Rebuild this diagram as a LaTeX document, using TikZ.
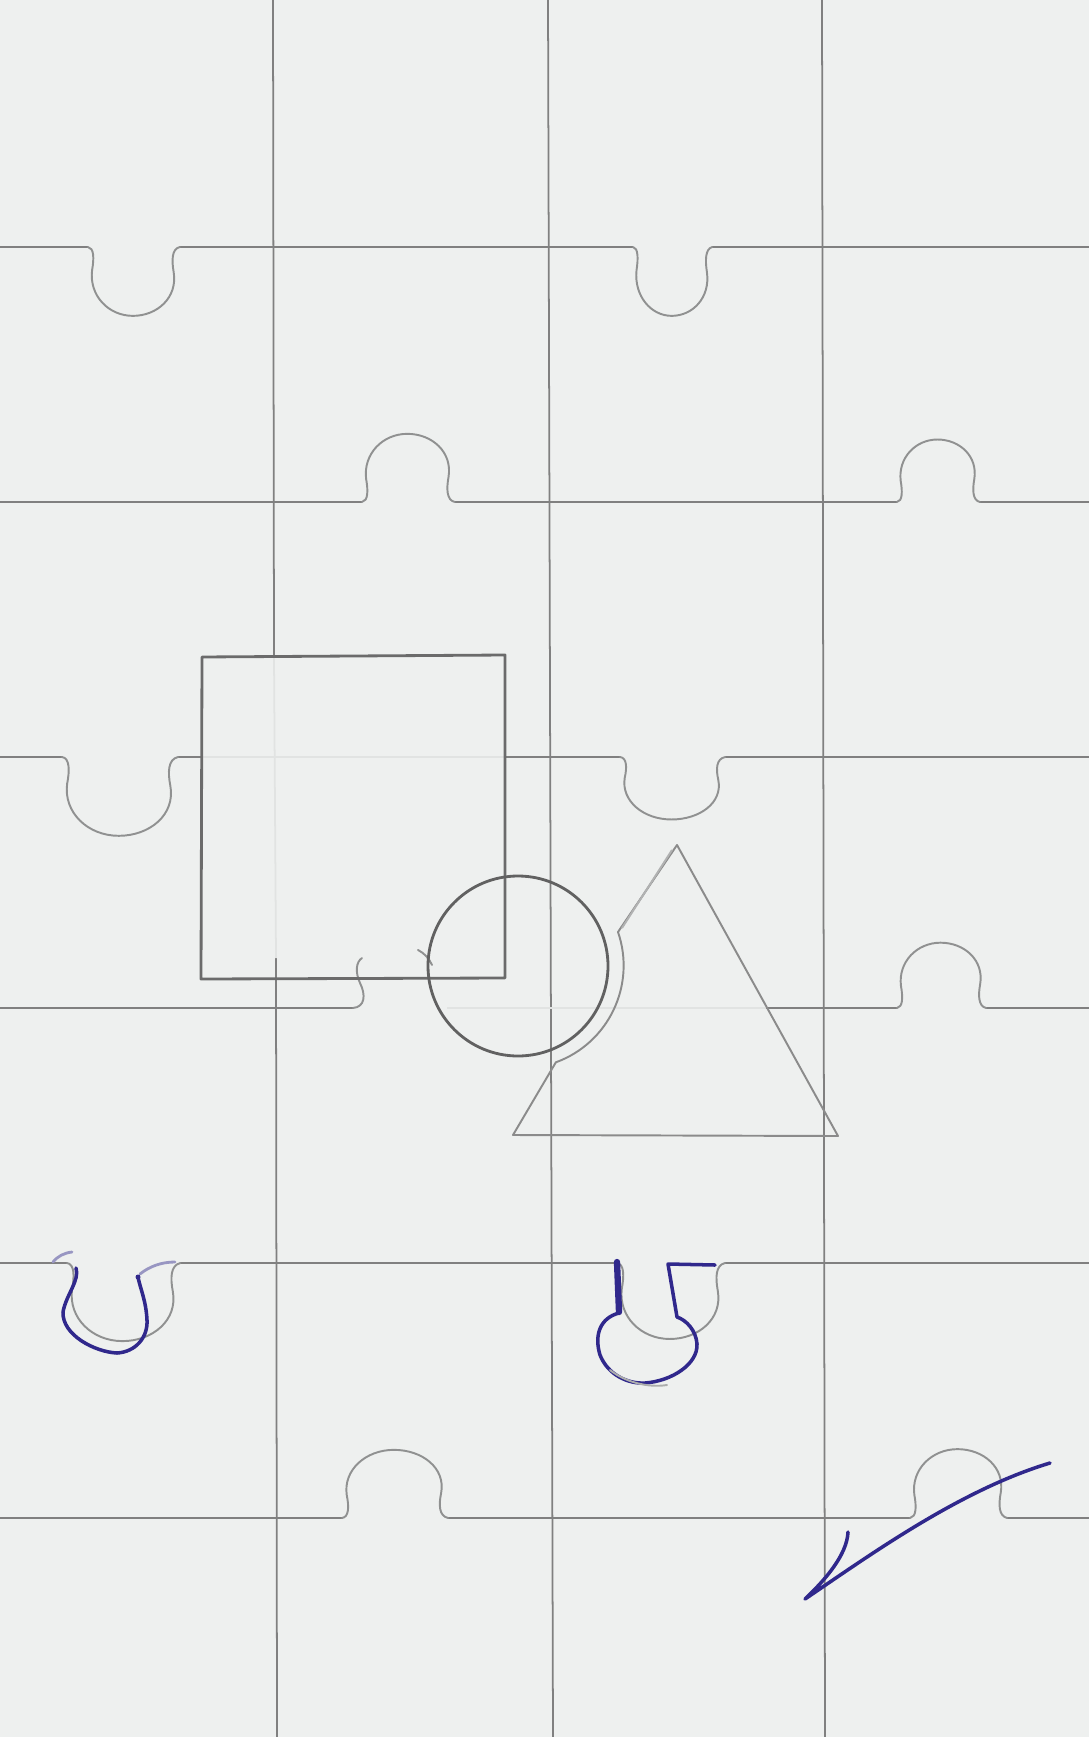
\documentclass[tikz,border=0pt]{standalone}
\definecolor{paper}{RGB}{238,240,239}
\definecolor{pencil}{RGB}{128,128,128}
\definecolor{ink}{RGB}{48,40,140}
\tikzset{
  knob/.pic={
    \draw[tabline] (0,0) .. controls (6,1) and (6,12) .. (4,24)
      .. controls (1,50) and (20,71) .. (44,71)
      .. controls (68,71) and (88,52) .. (84,26)
      .. controls (82,14) and (82,2) .. (90,0);
  }
}
\begin{document}
\begin{tikzpicture}[x=0.1mm, y=-0.1mm,
    gridline/.style={draw=pencil, line width=0.5pt},
    faint/.style={draw=pencil!12!paper, line width=0.5pt},
    tabline/.style={draw=pencil!85!paper, line width=0.55pt, line cap=round},
    shapeline/.style={draw=black!58, line width=0.8pt, line join=round},
    triline/.style={draw=pencil!90!paper, line width=0.55pt, line join=round},
    inkline/.style={draw=ink, line width=1pt, line cap=round, line join=round},
    inklight/.style={draw=ink!45!paper, line width=0.8pt, line cap=round}]
    % Paper and frame
    \useasboundingbox (0,0) rectangle (1089,1737);
    \fill[paper] (0,0) rectangle (1089,1737);

    % Vertical grid lines
    \draw[gridline] (273,0) -- (274,657) (276,958) -- (277,1737);
    \draw[faint] (274,657) -- (276,958);
    \foreach \xa/\xb in {548/553, 822/825} {
        \draw[gridline] (\xa,0) -- (\xb,1737);
    }

    % Horizontal grid lines, broken where the knobs sit
    \draw[gridline] (0,247) -- (88,247) (180,247) -- (633,247) (712,247) -- (1089,247);
    \draw[gridline] (0,502) -- (362,502) (455,502) -- (897,502) (980,502) -- (1089,502);
    \draw[gridline] (0,757) -- (62,757) (178,757) -- (202,757) (505,757) -- (620,757) (725,757) -- (1089,757);
    \draw[faint] (202,757) -- (505,757);
    \draw[gridline] (0,1008) -- (353,1008) (766,1008) -- (897,1008) (986,1008) -- (1089,1008);
    \draw[faint] (447,1008) -- (766,1008);
    \draw[gridline] (0,1263) -- (67,1263) (180,1263) -- (617,1263) (725,1263) -- (1089,1263);
    \draw[gridline] (0,1518) -- (342,1518) (448,1518) -- (910,1518) (1007,1518) -- (1089,1518);

    % Puzzle knobs
    \foreach \x/\y/\sx/\sy in {88/247/1.02/0.97, 633/247/0.88/0.97,
        362/502/1.03/-0.96, 897/502/0.92/-0.88,
        62/757/1.29/1.11, 620/757/1.17/0.88,
        897/1008/0.99/-0.92,
        67/1263/1.26/1.1, 617/1263/1.2/1.07,
        342/1518/1.18/-0.96, 910/1518/1.08/-0.97} {
        \pic[xscale=\sx, yscale=\sy] at (\x,\y) {knob};
    }

    % Knob half hidden under the square and the circle
    \draw[tabline] (353,1008) .. controls (365,1007) and (366,995) .. (360,983)
        .. controls (355,972) and (356,962) .. (362,958);
    \draw[tabline] (418,950) .. controls (424,953) and (429,958) .. (432,965);

    % Square
    \draw[shapeline] (202,657) -- (505,655) -- (505,978) -- (201,979) -- cycle;

    % Circle
    \draw[shapeline, draw=black!62] (518,966) circle[radius=90];

    % Triangle, bent round the circle
    \draw[triline] (677,845) -- (618,932) arc[start angle=-19, end angle=70, radius=103]
        -- (513,1135) -- (838,1136) -- cycle;
    \draw[triline, draw=pencil!55!paper] (672,850) -- (622,928);

    % Ink over the left knob of the fifth line
    \draw[inklight] (53,1262) .. controls (58,1256) and (64,1253) .. (72,1252);
    \draw[inkline] (76,1268) .. controls (80,1280) and (66,1295) .. (63,1312)
        .. controls (62,1335) and (95,1352) .. (117,1353)
        .. controls (135,1352) and (148,1338) .. (147,1320)
        .. controls (146,1300) and (140,1288) .. (138,1277);
    \fill[ink] (138,1277) circle[radius=2.5];
    \draw[inklight] (140,1274) .. controls (150,1266) and (162,1262) .. (175,1262);

    % Ink over the right knob of the fifth line
    \draw[inkline, line width=1.8pt] (617,1262) -- (619,1312);
    \draw[inkline] (619,1313) .. controls (600,1318) and (594,1335) .. (600,1355)
        .. controls (608,1375) and (628,1384) .. (645,1383)
        .. controls (672,1381) and (698,1364) .. (697,1344)
        .. controls (696,1330) and (686,1320) .. (677,1317)
        -- (668,1264) -- (715,1265);
    \draw[tabline, draw=pencil!60!paper] (610,1370) .. controls (625,1382) and (648,1388) .. (667,1385);

    % Check mark
    \draw[inkline] (848,1532) .. controls (847,1555) and (825,1580) .. (805,1599)
        .. controls (870,1555) and (960,1490) .. (1050,1463);
\end{tikzpicture}
\end{document}
